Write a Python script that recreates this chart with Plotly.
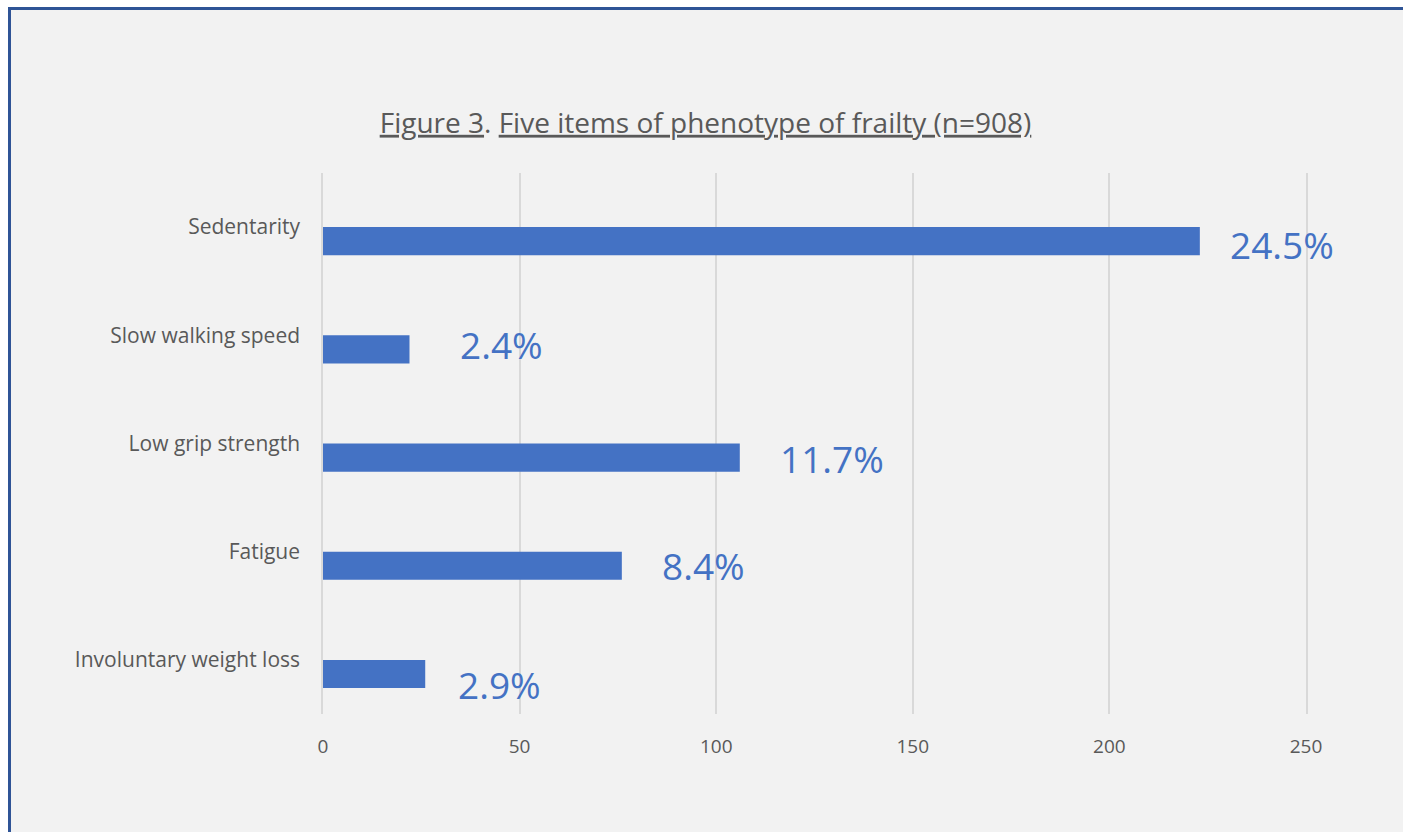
import plotly.graph_objects as go

# ---- data (bottom to top on the category axis) ----
categories = ["Involuntary weight loss", "Fatigue", "Low grip strength",
              "Slow walking speed", "Sedentarity"]
counts = [26, 76, 106, 22, 223]
pct_labels = ["2.9%", "8.4%", "11.7%", "2.4%", "24.5%"]
x_ticks = [0, 50, 100, 150, 200, 250]

# label nudges (pixels) - style only
label_dx = [31, 38, 38, 48, 28]
label_dy = [-25, -14, -15, -9, -17]

BLUE = "#4472C4"
GREY = "#595959"
GRID = "#D9D9D9"
FONT = "Open Sans"

# layout geometry in pixels
W, H = 1403, 832
L, R, T, B = 323, 97, 173, 118
PW, PH = W - L - R, H - T - B


def px_x(p):
    return (p - L) / PW


def px_y(p):
    return (H - B - p) / PH


fig = go.Figure()
fig.add_trace(go.Bar(
    y=categories, x=counts, orientation="h",
    marker=dict(color=BLUE, line=dict(width=0)),
    width=0.26, offset=-0.26, hoverinfo="skip",
))

for c, v, t, dx, dy in zip(categories, counts, pct_labels, label_dx, label_dy):
    fig.add_annotation(x=v, y=c, text=t, showarrow=False, xanchor="left",
                       yanchor="middle", xshift=dx, yshift=dy,
                       font=dict(family=FONT, size=37, color=BLUE))

fig.add_shape(type="rect", xref="paper", yref="paper", layer="below",
              x0=px_x(9.5), x1=px_x(1420), y0=px_y(850), y1=px_y(8.5),
              fillcolor="#F2F2F2", line=dict(color="#2F5496", width=3))

fig.update_layout(
    width=W, height=H,
    margin=dict(l=L, r=R, t=T, b=B, pad=0),
    paper_bgcolor="white", plot_bgcolor="rgba(0,0,0,0)",
    showlegend=False,
    title=dict(
        text="<u>Figure 3</u>. <u>Five items of phenotype of frailty (n=908)</u>",
        xref="container", yref="container", x=705.5 / W, y=1 - 123 / H,
        xanchor="center", yanchor="middle",
        font=dict(family=FONT, size=28, color=GREY)),
    xaxis=dict(range=[0, 250], tickvals=x_ticks, showgrid=True,
               gridcolor=GRID, gridwidth=1.5, zeroline=False,
               showline=False, ticks="", ticklabelstandoff=19,
               tickfont=dict(family=FONT, size=19, color=GREY)),
    yaxis=dict(type="category", categoryorder="array", categoryarray=categories,
               range=[-0.5, 4.5], showgrid=False, zeroline=False,
               showline=True, mirror=True, linecolor=GRID, linewidth=1.5,
               ticks="", ticklabelstandoff=17,
               tickfont=dict(family=FONT, size=21, color=GREY)),
)

fig.write_html("out.html")
